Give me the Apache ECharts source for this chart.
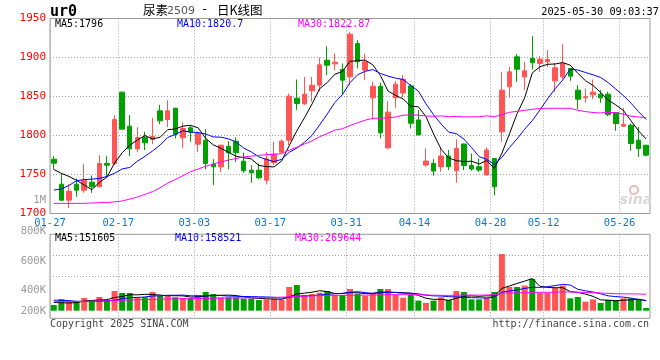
<!DOCTYPE html>
<html><head><meta charset="utf-8">
<script src="https://cdn.jsdelivr.net/npm/echarts@6/dist/echarts.min.js"></script>
<style>html,body{margin:0;padding:0;background:#fff}#c{width:660px;height:360px}</style>
</head><body><div id="c"></div>
<script>
const dates = ['01-27','02-05','02-06','02-07','02-10','02-11','02-12','02-13','02-14','02-17','02-18','02-19','02-20','02-21','02-24','02-25','02-26','02-27','02-28','03-03','03-04','03-05','03-06','03-07','03-10','03-11','03-12','03-13','03-14','03-17','03-18','03-19','03-20','03-21','03-24','03-25','03-26','03-27','03-28','03-31','04-01','04-02','04-03','04-07','04-08','04-09','04-10','04-11','04-14','04-15','04-16','04-17','04-18','04-21','04-22','04-23','04-24','04-25','04-28','04-29','04-30','05-06','05-07','05-08','05-09','05-12','05-13','05-14','05-15','05-16','05-19','05-20','05-21','05-22','05-23','05-26','05-27','05-28','05-29'];
const tickDates = ['01-27','02-17','03-03','03-17','03-31','04-14','04-28','05-12','05-26'];
const opens  = [1769.7,1737.6,1717.1,1737.6,1729.9,1740.2,1734.2,1764.1,1764.1,1855.6,1812.0,1782.9,1797.4,1794.9,1831.6,1820.5,1835.0,1797.0,1809.8,1788.9,1794.0,1763.2,1759.8,1786.3,1792.7,1767.1,1755.6,1755.6,1742.7,1765.4,1778.6,1794.0,1847.9,1840.6,1857.3,1864.5,1896.6,1891.9,1884.6,1875.2,1917.9,1883.8,1848.3,1863.2,1784.2,1848.3,1854.5,1863.6,1820.0,1762.1,1764.3,1760.0,1773.7,1754.8,1789.1,1761.7,1760.0,1749.3,1770.5,1804.7,1862.4,1900.9,1875.2,1898.7,1892.3,1894.4,1870.1,1875.2,1885.9,1858.1,1848.3,1852.1,1853.0,1853.0,1829.5,1812.0,1813.2,1794.0,1787.6];
const closes = [1764.5,1717.1,1728.6,1729.9,1742.7,1734.2,1764.1,1762.0,1820.5,1808.1,1782.9,1797.4,1790.6,1799.1,1818.8,1831.6,1801.7,1809.0,1804.3,1802.6,1764.1,1759.8,1787.6,1777.8,1777.8,1754.7,1752.1,1745.7,1770.1,1776.1,1792.7,1850.4,1841.0,1853.0,1864.5,1890.6,1890.2,1894.0,1870.9,1929.9,1894.4,1894.4,1863.2,1803.4,1829.9,1865.8,1872.0,1815.7,1800.7,1767.3,1754.4,1773.7,1760.0,1783.5,1761.3,1757.0,1755.7,1781.4,1734.2,1858.1,1881.6,1885.0,1882.9,1893.2,1897.9,1897.4,1886.8,1892.3,1876.1,1846.6,1849.6,1855.6,1848.3,1826.9,1815.4,1814.1,1789.7,1783.3,1774.8];
const lows   = [1756.4,1716.0,1706.8,1721.4,1726.5,1726.5,1734.2,1747.0,1762.0,1808.1,1773.5,1778.6,1781.2,1788.9,1814.5,1810.7,1796.2,1784.2,1791.9,1778.6,1756.8,1736.3,1753.4,1756.4,1766.2,1752.1,1739.3,1744.0,1737.2,1762.0,1776.9,1787.6,1832.5,1839.3,1843.2,1856.8,1877.4,1883.8,1853.0,1864.5,1885.9,1870.9,1820.5,1796.2,1782.1,1835.5,1849.0,1809.0,1800.7,1760.0,1748.4,1753.6,1755.7,1739.4,1755.6,1754.7,1753.4,1749.3,1723.5,1791.9,1848.3,1868.8,1858.1,1884.6,1881.6,1888.0,1856.0,1872.2,1870.1,1833.8,1841.9,1846.6,1841.9,1824.8,1806.0,1811.1,1780.3,1772.6,1773.5];
const highs  = [1773.5,1751.3,1737.6,1744.9,1763.2,1748.7,1774.8,1773.5,1826.1,1856.0,1826.1,1810.7,1804.7,1822.6,1839.3,1845.3,1835.5,1817.0,1812.4,1804.7,1808.1,1769.7,1788.0,1792.7,1797.4,1778.2,1762.0,1764.1,1779.1,1791.9,1794.9,1853.8,1871.8,1875.2,1875.2,1900.0,1914.5,1905.1,1892.3,1932.9,1922.2,1905.1,1868.8,1867.9,1844.0,1869.7,1877.5,1866.0,1832.8,1783.5,1769.8,1784.8,1781.4,1795.1,1789.7,1776.9,1770.5,1784.6,1770.5,1881.6,1888.0,1904.3,1894.4,1927.4,1901.7,1909.4,1893.2,1917.1,1885.9,1864.5,1860.3,1871.8,1858.1,1856.0,1829.5,1835.5,1815.4,1811.1,1787.6];
const volumes = [127000,181000,158000,158000,193000,158000,203000,174000,260000,241000,241000,200000,200000,250000,212000,212000,200000,193000,193000,222000,250000,231000,200000,200000,200000,187000,187000,174000,180000,187000,174000,298000,317000,222000,231000,244000,260000,222000,222000,279000,234000,212000,241000,279000,279000,222000,196000,222000,168000,146000,168000,200000,174000,260000,250000,180000,180000,200000,250000,612000,298000,298000,311000,374000,241000,241000,289000,311000,190000,203000,158000,180000,146000,174000,174000,190000,190000,180000,98000];
const ma5Lead  = [1756.5,1751.5,1747.5,1742.5];
const ma10Lead = [1730,1731.5,1736,1742,1743.5,1744,1745,1747.5,1751.5];
const ma30Lead = [1713,1713,1713,1713,1713,1713.5,1714,1714,1715,1716,1718.5,1721,1724.5,1728,1733,1739,1743.5,1748.5,1753.5,1757,1760.5,1763.5,1766,1768.5,1770.5,1772.5,1773.5,1774.5,1775.5];
const vma5Lead  = [150000,148000,145000,150000];
const vma10Lead = [172000,172000,168000,162000,160000,160000,162000,165000,172000];
const vma30Lead = [158000,158000,159000,160000,161000,162000,164000,166000,168000,171000,174000,176000,178000,180000,182000,184000,185000,186000,187000,188000,189000,190000,191000,192000,193000,194000,195000,196000,197000];
const priceLegend = ['MA5:1796','MA10:1820.7','MA30:1822.87'];
const volLegend = ['MA5:151605','MA10:158521','MA30:269644'];
const volTickLabels = ['800K','600K','400K','200K'];

const RED='#ff5555', GREEN='#00a000', MONO='DejaVu Sans Mono';
function movingAvg(arr, n, lead){
  return arr.map((v,i)=>{
    if(i < n-1) return lead[i];
    let s=0; for(let k=i-n+1;k<=i;k++) s+=arr[k];
    return +(s/n).toFixed(2);
  });
}
const isTick = (idx, val) => tickDates.indexOf(val) >= 0;
const dotted = {color:'#a0a0a0', type:[1,2], width:1};
const dates2 = dates.concat(['']);

const chart = echarts.init(document.getElementById('c'), null, {renderer:'canvas'});
const lineS = (name, data, color, xi, yi) => ({name, type:'line', data, xAxisIndex:xi, yAxisIndex:yi, showSymbol:false, symbol:'none', silent:true, lineStyle:{color, width:1}, z:5, animation:false});
const txt = (text, x, y, font, fill, align) => ({type:'text', x, y, silent:true, style:{text, font, fill, textAlign:align||'left', align:align||'left', textVerticalAlign:'middle', verticalAlign:'middle'}});

chart.setOption({
  animation:false,
  grid:[
    {left:50, right:10, top:18.5, height:195, show:true, borderColor:'#999', borderWidth:1},
    {left:50, right:10, top:234.3, height:76.4, show:false},
    {left:50, right:10, top:234.3, height:41.7, show:false},
    {left:50, right:10, top:234.3, height:84, show:true, borderColor:'#999', borderWidth:1}
  ],
  xAxis:[
    {type:'category', gridIndex:0, data:dates, boundaryGap:true, show:false, position:'top'},
    {type:'category', gridIndex:0, data:dates2, boundaryGap:false, position:'bottom',
     axisLine:{show:false}, axisTick:{show:false},
     axisLabel:{interval:isTick, color:'#0a78d2', fontSize:10.5, fontFamily:MONO, margin:4},
     splitLine:{show:true, interval:isTick, lineStyle:dotted}},
    {type:'category', gridIndex:1, data:dates, boundaryGap:true, show:false},
    {type:'value', gridIndex:2, min:0, max:1, show:false},
    {type:'category', gridIndex:3, data:dates2, boundaryGap:false,
     axisLine:{show:false}, axisTick:{show:false}, axisLabel:{show:false},
     splitLine:{show:true, interval:isTick, lineStyle:dotted}}
  ],
  yAxis:[
    {type:'value', gridIndex:0, min:1700, max:1950, interval:50,
     axisLine:{show:false}, axisTick:{show:false},
     axisLabel:{color:'#ff0000', fontSize:11, fontFamily:MONO, margin:4, padding:[0,0,3,0], formatter:v=>String(v)},
     splitLine:{show:true, lineStyle:dotted, showMinLine:false, showMaxLine:false}},
    {type:'value', gridIndex:1, min:72000, max:800000, show:false},
    {type:'value', gridIndex:2, min:400000, max:800000, interval:200000,
     axisLine:{show:false}, axisTick:{show:false}, axisLabel:{show:false},
     splitLine:{show:true, lineStyle:dotted, showMinLine:true, showMaxLine:false}},
    {type:'value', gridIndex:3, show:false}
  ],
  series:[
    {type:'candlestick', xAxisIndex:0, yAxisIndex:0, barWidth:5,
     data: opens.map((o,i)=>[o, closes[i], lows[i], highs[i]]),
     itemStyle:{color:RED, color0:GREEN, borderColor:RED, borderColor0:GREEN, borderWidth:1}, z:3},
    lineS('MA5', movingAvg(closes,5,ma5Lead), '#000000', 0, 0),
    lineS('MA10', movingAvg(closes,10,ma10Lead), '#0000ff', 0, 0),
    lineS('MA30', movingAvg(closes,30,ma30Lead), '#ff00ff', 0, 0),
    {type:'bar', xAxisIndex:2, yAxisIndex:1, barWidth:6,
     data: volumes.map((v,i)=>({value:v, itemStyle:{color: closes[i]>=opens[i]?RED:GREEN}})), z:3},
    lineS('VMA5', movingAvg(volumes,5,vma5Lead), '#000000', 2, 1),
    lineS('VMA10', movingAvg(volumes,10,vma10Lead), '#0000ff', 2, 1),
    lineS('VMA30', movingAvg(volumes,30,vma30Lead), '#ff00ff', 2, 1)
  ],
  graphic:[
    txt('ur0', 50, 12, 'bold 15px '+MONO, '#000'),
    txt('尿素', 143, 10, '12.5px "Noto Sans CJK SC"', '#000'),
    txt('2509', 167, 11, '11px "DejaVu Sans"', '#555'),
    txt('-', 201, 10, '12px '+MONO, '#000'),
    txt('日K线图', 217, 10, '12.5px "Noto Sans CJK SC"', '#000'),
    txt('2025-05-30 09:03:37', 659, 12, '10.3px '+MONO, '#000', 'right'),
    txt(priceLegend[0], 55, 24, '10px '+MONO, '#000'),
    txt(priceLegend[1], 177, 24, '10px '+MONO, '#0000ff'),
    txt(priceLegend[2], 298, 24, '10px '+MONO, '#ff00ff'),
    txt(volLegend[0], 55, 238.5, '10px '+MONO, '#000'),
    txt(volLegend[1], 175, 238.5, '10px '+MONO, '#0000ff'),
    txt(volLegend[2], 295, 238.5, '10px '+MONO, '#ff00ff'),
    txt('1M', 46, 200, '10.5px '+MONO, '#999', 'right'),
    txt(volTickLabels[0], 46, 231, '10.5px '+MONO, '#999', 'right'),
    txt(volTickLabels[1], 46, 261, '10.5px '+MONO, '#999', 'right'),
    txt(volTickLabels[2], 46, 290, '10.5px '+MONO, '#999', 'right'),
    txt(volTickLabels[3], 46, 311, '10.5px '+MONO, '#999', 'right'),
    txt('Copyright 2025 SINA.COM', 50, 324, '10px '+MONO, '#444'),
    txt('http://finance.sina.com.cn', 649, 324, '10px '+MONO, '#444', 'right'),
    {type:'circle', shape:{cx:634, cy:190, r:4}, style:{fill:'none', stroke:'#eab8b8', lineWidth:2}, silent:true},
    txt('sina', 636, 200, 'italic bold 14px "DejaVu Sans"', '#d8d8d8', 'center')
  ]
});
</script></body></html>
